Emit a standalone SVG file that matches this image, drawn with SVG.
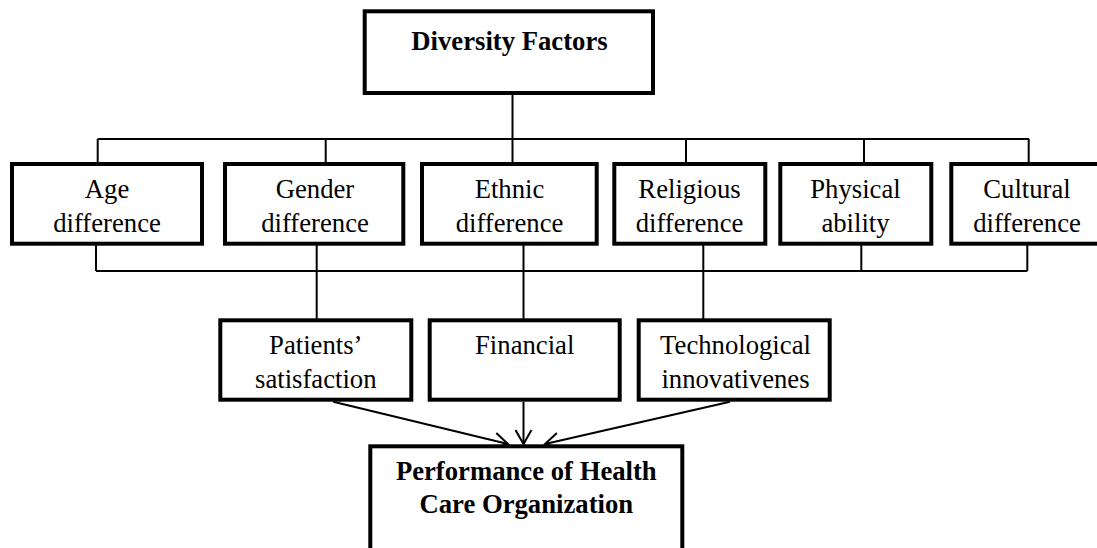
<svg xmlns="http://www.w3.org/2000/svg" width="1097" height="548" viewBox="0 0 1097 548">
  <style>
    .box { fill: #ffffff; stroke: #000000; stroke-width: 4; }
    .conn { fill: none; stroke: #000000; stroke-width: 2; }
    .t { font-family: "Liberation Serif", "Times New Roman", serif; font-size: 26.7px; fill: #000000; text-anchor: middle; }
    .b { font-weight: bold; }
  </style>
  <defs>
    <marker id="arr" markerUnits="userSpaceOnUse" markerWidth="18" markerHeight="18" viewBox="0 0 18 18" refX="16" refY="9" orient="auto">
      <path d="M2,1 L16,9 L2,17" fill="none" stroke="#000000" stroke-width="2"/>
    </marker>
  </defs>
  <rect width="1097" height="548" fill="#ffffff"/>

  <g id="connectors">
    <!-- top bus -->
    <line class="conn" x1="512.5" y1="93" x2="512.5" y2="164"/>
    <line class="conn" x1="97.7" y1="139" x2="1029" y2="139"/>
    <line class="conn" x1="97.7" y1="139" x2="97.7" y2="164"/>
    <line class="conn" x1="325.7" y1="139" x2="325.7" y2="164"/>
    <line class="conn" x1="686" y1="139" x2="686" y2="164"/>
    <line class="conn" x1="864" y1="139" x2="864" y2="164"/>
    <line class="conn" x1="1028.7" y1="139" x2="1028.7" y2="164"/>
    <!-- bottom bus -->
    <line class="conn" x1="96" y1="271" x2="1027.3" y2="271"/>
    <line class="conn" x1="96" y1="243.7" x2="96" y2="271"/>
    <line class="conn" x1="861.3" y1="243.7" x2="861.3" y2="271"/>
    <line class="conn" x1="1027.3" y1="243.7" x2="1027.3" y2="271"/>
    <!-- down to outcome boxes -->
    <line class="conn" x1="316.7" y1="243.7" x2="316.7" y2="320.3"/>
    <line class="conn" x1="523.5" y1="243.7" x2="523.5" y2="320.3"/>
    <line class="conn" x1="703.3" y1="243.7" x2="703.3" y2="320.3"/>
    <!-- arrows to performance -->
    <line class="conn" x1="333.3" y1="401.7" x2="508" y2="444" marker-end="url(#arr)"/>
    <line class="conn" x1="523.5" y1="401.7" x2="523.5" y2="444" marker-end="url(#arr)"/>
    <line class="conn" x1="730" y1="401.7" x2="545" y2="444" marker-end="url(#arr)"/>
  </g>

  <g id="diversity-factors">
    <rect class="box" x="364.7" y="11.3" width="288.3" height="81.7"/>
    <text class="t b" x="509.5" y="50">Diversity Factors</text>
  </g>

  <g id="age-difference">
    <rect class="box" x="12" y="164" width="190" height="79.7"/>
    <text class="t" x="107" y="197.7">Age</text>
    <text class="t" x="107" y="231.7">difference</text>
  </g>

  <g id="gender-difference">
    <rect class="box" x="225" y="164" width="178.3" height="79.7"/>
    <text class="t" x="315" y="197.7">Gender</text>
    <text class="t" x="315" y="231.7">difference</text>
  </g>

  <g id="ethnic-difference">
    <rect class="box" x="422" y="164" width="174.7" height="79.7"/>
    <text class="t" x="509.5" y="197.7">Ethnic</text>
    <text class="t" x="509.5" y="231.7">difference</text>
  </g>

  <g id="religious-difference">
    <rect class="box" x="614.3" y="164" width="151" height="79.7"/>
    <text class="t" x="689.5" y="197.7">Religious</text>
    <text class="t" x="689.5" y="231.7">difference</text>
  </g>

  <g id="physical-ability">
    <rect class="box" x="780.3" y="164" width="151" height="79.7"/>
    <text class="t" x="855.5" y="197.7">Physical</text>
    <text class="t" x="855.5" y="231.7">ability</text>
  </g>

  <g id="cultural-difference">
    <rect class="box" x="951.3" y="164" width="154" height="79.7"/>
    <text class="t" x="1027" y="197.7">Cultural</text>
    <text class="t" x="1027" y="231.7">difference</text>
  </g>

  <g id="patients-satisfaction">
    <rect class="box" x="220.3" y="320.3" width="191" height="79.4"/>
    <text class="t" x="315.8" y="354">Patients’</text>
    <text class="t" x="315.8" y="388.3">satisfaction</text>
  </g>

  <g id="financial">
    <rect class="box" x="429.7" y="320.3" width="190" height="79.4"/>
    <text class="t" x="524.7" y="354">Financial</text>
  </g>

  <g id="technological-innovativeness">
    <rect class="box" x="638.7" y="320.3" width="191" height="79.4"/>
    <text class="t" x="735.5" y="354">Technological</text>
    <text class="t" x="735.5" y="388.3">innovativenes</text>
  </g>

  <g id="performance">
    <rect class="box" x="370.3" y="446.3" width="312" height="130"/>
    <text class="t b" x="526.3" y="480">Performance of Health</text>
    <text class="t b" x="526.3" y="513.3">Care Organization</text>
  </g>
</svg>
